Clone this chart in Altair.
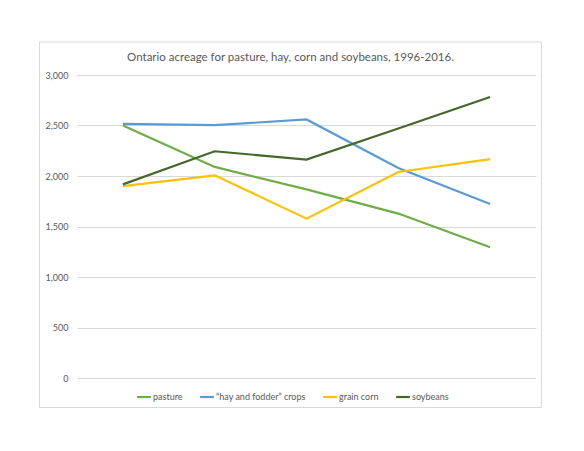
import altair as alt
import pandas as pd

years = ["1996", "2001", "2006", "2011", "2016"]
pasture = [2500, 2090, 1867, 1628, 1295]
hay_fodder = [2517, 2503, 2560, 2080, 1723]
grain_corn = [1900, 2007, 1578, 2040, 2167]
soybeans = [1917, 2245, 2163, 2470, 2783]

series_names = ["pasture", "\u201chay and fodder\u201d crops", "grain corn", "soybeans"]
series_colors = ["#70AD47", "#5B9BD5", "#FFC000", "#43682B"]

rows = []
for name, vals in zip(series_names, [pasture, hay_fodder, grain_corn, soybeans]):
    for yr, v in zip(years, vals):
        rows.append({"year": yr, "series": name, "acres": v})
df = pd.DataFrame(rows)

FONT = "Lato"
GREY = "#595959"

# outer chart-area border, like the spreadsheet frame
frame = (
    alt.Chart(pd.DataFrame({"a": [0]}))
    .mark_rect(fill="white", fillOpacity=0, stroke="#D9D9D9", strokeWidth=1, clip=False)
    .encode(
        x=alt.value(-37.5),
        x2=alt.value(464.5),
        y=alt.value(-33),
        y2=alt.value(332.5),
    )
)

lines = (
    alt.Chart(df)
    .mark_line(strokeWidth=2.2)
    .encode(
        x=alt.X(
            "year:N",
            sort=years,
            scale=alt.Scale(paddingInner=0, paddingOuter=0),
            axis=alt.Axis(labels=False, ticks=False, domain=False, title=None, grid=False),
        ),
        y=alt.Y(
            "acres:Q",
            scale=alt.Scale(domain=[0, 3000]),
            axis=alt.Axis(
                values=[0, 500, 1000, 1500, 2000, 2500, 3000],
                format=",.0f",
                title=None,
                domain=False,
                ticks=False,
                labelPadding=9,
                gridColor="#D9D9D9",
            ),
        ),
        color=alt.Color(
            "series:N",
            sort=series_names,
            scale=alt.Scale(domain=series_names, range=series_colors),
            legend=alt.Legend(
                title=None,
                orient="none",
                direction="horizontal",
                legendX=59,
                legendY=314,
                symbolType="stroke",
                symbolSize=190,
                symbolStrokeWidth=2.2,
                labelOffset=1,
                columnPadding=12,
            ),
        ),
        detail="series:N",
        order=alt.Order("year:N"),
    )
)

chart = (
    alt.layer(frame, lines)
    .properties(
        width=459,
        height=303,
        autosize=alt.AutoSizeParams(type="none"),
        padding={"left": 69, "top": 67, "right": 40, "bottom": 40},
        title=alt.TitleParams(
            "Ontario acreage for pasture, hay, corn and soybeans, 1996-2016.",
            font=FONT,
            fontSize=11.5,
            fontWeight="normal",
            color=GREY,
            anchor="middle",
            frame="bounds",
            offset=-22,
        ),
    )
    .configure_view(stroke=None)
    .configure_axis(labelFont=FONT, labelFontSize=9, labelColor=GREY)
    .configure_legend(labelFont=FONT, labelFontSize=9, labelColor=GREY)
)

chart.save("out.html", embed_options={"renderer": "svg", "actions": False})
